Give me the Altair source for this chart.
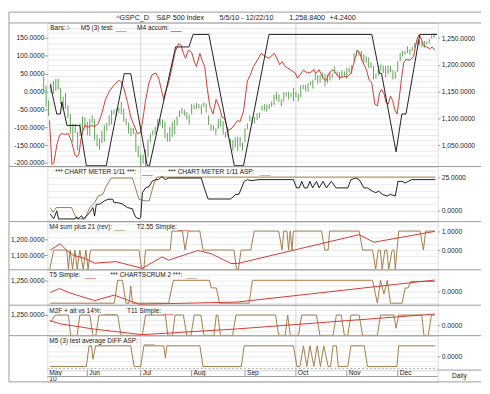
import altair as alt
import pandas as pd

# ---------------- data ----------------
# trading-day index: 0 = 5/5/10 ... 161 = 12/22/10
month_idx = [1.5, 18, 40, 61, 83, 104, 125, 146]
month_lbl = ["May", "Jun", "Jul", "Aug", "Sep", "Oct", "Nov", "Dec"]
quarter_idx = [40, 104]

bar_lo = (
    [1150, 1122, 1105, 1148, 1146, 1152, 1154, 1127, 1116, 1118, 1101, 1071, 1056, 1073, 1041, 1067, 1070, 1081]
    + [1069, 1068, 1091, 1060, 1048, 1042, 1054, 1057, 1077, 1087, 1089, 1108, 1104, 1110, 1108, 1094, 1088, 1072, 1067, 1071, 1038, 1028]
    + [1011, 1016, 1010, 1028, 1056, 1069, 1071, 1080, 1087, 1082, 1063, 1057, 1057, 1066, 1070, 1087, 1103, 1109, 1105, 1098, 1089]
    + [1108, 1117, 1118, 1119, 1108, 1122, 1111, 1088, 1077, 1078, 1069, 1081, 1085, 1070, 1064, 1066, 1046, 1040, 1046, 1040, 1048, 1040]
    + [1056, 1080, 1095, 1091, 1091, 1097, 1101, 1114, 1115, 1113, 1118, 1122, 1125, 1135, 1131, 1123, 1132, 1141, 1136, 1140, 1132]
    + [1140, 1132, 1140, 1155, 1151, 1150, 1162, 1156, 1172, 1165, 1167, 1174, 1160, 1166, 1171, 1175, 1184, 1180, 1172, 1177, 1180]
    + [1174, 1186, 1183, 1206, 1218, 1217, 1208, 1203, 1204, 1194, 1194, 1173, 1174, 1180, 1190, 1185, 1177, 1183, 1186, 1173, 1174]
    + [1187, 1207, 1216, 1219, 1222, 1219, 1226, 1232, 1238, 1237, 1233, 1232, 1238, 1240, 1249, 1251]
)
bar_hi = (
    [1178, 1162, 1134, 1166, 1170, 1174, 1174, 1157, 1141, 1148, 1125, 1108, 1090, 1090, 1075, 1091, 1104, 1102]
    + [1094, 1099, 1106, 1099, 1070, 1063, 1077, 1088, 1092, 1106, 1116, 1117, 1118, 1120, 1131, 1119, 1100, 1092, 1083, 1082, 1074, 1049]
    + [1033, 1033, 1042, 1061, 1072, 1078, 1085, 1099, 1099, 1098, 1095, 1073, 1084, 1094, 1098, 1104, 1115, 1120, 1117, 1112, 1107]
    + [1127, 1126, 1129, 1127, 1126, 1130, 1128, 1106, 1089, 1087, 1082, 1099, 1100, 1095, 1075, 1082, 1062, 1060, 1065, 1066, 1065, 1055]
    + [1082, 1091, 1106, 1103, 1103, 1110, 1111, 1124, 1127, 1126, 1127, 1132, 1144, 1149, 1145, 1136, 1149, 1149, 1150, 1148, 1157]
    + [1150, 1146, 1162, 1163, 1163, 1166, 1169, 1173, 1184, 1181, 1181, 1186, 1183, 1182, 1187, 1184, 1197, 1188, 1186, 1190, 1188]
    + [1195, 1195, 1199, 1222, 1227, 1226, 1226, 1220, 1216, 1214, 1205, 1198, 1184, 1199, 1201, 1199, 1198, 1199, 1198, 1190, 1188]
    + [1207, 1222, 1226, 1226, 1235, 1229, 1234, 1241, 1247, 1246, 1244, 1245, 1244, 1248, 1255, 1259]
)

# (day index, value) pairs
m5_test = [(2.4, -81), (3.4, -205), (4.2, -200), (5.4, -150), (6.5, -123), (7.5, -118), (8.8, -120), (10.2, -118),
           (11.5, -141), (12.9, -178), (13.8, -183), (14.6, -174), (15.2, -141), (16.0, -114), (17.0, -95), (18.3, -100),
           (19.7, -95), (21.0, -98), (22.4, -91), (23.7, -68), (25.5, -22), (27.1, 1), (29.1, 19), (30.9, 31), (31.9, 28),
           (33.2, 6), (34.6, -31), (35.9, -72), (37.3, -95), (38.6, -118), (40.0, -115), (40.9, -77), (42.0, -26),
           (43.4, 24), (44.7, 47), (46.1, 52), (47.4, 38), (48.5, 6), (49.5, -22), (50.1, -4), (51.5, 24), (52.8, 65),
           (54.2, 111), (55.6, 134), (56.7, 130), (57.6, 107), (58.5, 93), (59.6, 116), (61.0, 110), (62.1, 84),
           (63.0, 70), (64.4, 107), (65.3, 88), (66.4, 70), (67.5, 6), (68.5, -40), (69.8, -63), (71.1, -22),
           (72.5, -45), (73.5, -72), (74.6, -75), (75.9, -109), (77.3, -105), (78.9, -91), (80.0, -81), (81.0, -84),
           (82.4, -55), (84.0, 30), (85.1, 45), (86.5, 70), (88.1, 88), (89.7, 107), (91.5, 98), (92.9, 93), (94.2, 102),
           (95.1, 107), (96.2, 93), (97.3, 75), (98.3, 84), (99.6, 70), (101.6, 62), (103.7, 52), (104.6, 38), (105.7, 47),
           (107.1, 60), (108.7, 52), (110.5, 55), (111.4, 62), (112.2, 50), (113.6, 61), (115.0, 40), (116.3, 30),
           (117.8, 52), (119.3, 61), (120.4, 52), (122.0, 38), (123.7, 42), (125.4, 42), (126.7, 52), (128.1, 84),
           (129.4, 116), (130.4, 107), (131.5, 84), (133.1, 61), (134.2, 33), (135.3, 24), (135.9, -4), (136.6, -36),
           (137.6, -40), (138.5, -4), (139.3, 6), (140.3, -5), (141.2, -31), (142.1, -35), (143.0, -13), (143.9, -25),
           (144.7, -49), (145.7, -63), (146.4, -31), (147.5, 33), (148.4, 79), (149.4, 90), (151.1, 88), (152.5, 98),
           (153.8, 143), (154.8, 159), (155.6, 150), (156.5, 130), (157.9, 125), (159.2, 120), (160.2, 125), (161.3, 116)]
m4_accum = [(2.7, 19), (5.4, -63), (6.9, -63), (7.5, -29), (9.6, -95), (14.9, -95), (17.6, -208), (25.8, -208),
            (33.2, 50), (35.9, 50), (42.7, -208), (43.6, -208), (54.4, 125), (59.9, 125), (61.6, 160), (68.1, 160),
            (78.6, -208), (82.4, -208), (92.9, 160), (135.3, 160), (138.5, 51), (139.3, 51), (145.3, -169),
            (147.7, -63), (149.4, -63), (155.1, 160), (162.3, 160)]

meter = [(2.7, -2.4), (4.1, -6.1), (5.4, 0), (6.1, -6.1), (12.9, -6.1), (13.6, -4.5), (14.2, -6.1), (15.6, -3.7),
         (16.3, -6.1), (17.6, -4), (19.0, -1.2), (20.3, 2.4), (21.0, -4), (21.7, 4.9), (23.1, 4.9), (25.1, 7.4),
         (26.4, 8.6), (28.5, 8.6), (29.0, 6.1), (30.5, 6.1), (32.5, 5), (34.5, 2.4), (36.6, 1.5), (37.3, -2.4),
         (38.0, -4.9), (39.3, -6.1), (40.0, -5), (40.7, 13.5), (42.0, 17.1), (43.4, 18), (44.7, 22), (46.1, 23.3),
         (47.4, 23.3), (48.7, 25.7), (50.2, 23.3), (51.5, 24.5), (65.0, 24.5), (66.4, 16), (67.8, 8.8), (77.1, 8.8),
         (79.3, 12.3), (80.5, 12.3), (82.7, 22), (84.0, 23.3), (85.4, 22.5), (88.8, 23.3), (103.0, 23.3),
         (104.3, 17.1), (105.4, 17.1), (106.4, 22), (107.5, 17.1), (108.7, 17.1), (109.8, 22), (110.9, 17.1),
         (112.5, 22), (113.6, 17.1), (115.2, 22), (116.6, 17.1), (118.6, 22), (120.6, 17.1), (125.4, 17.1),
         (126.7, 23.3), (128.7, 24.5), (130.1, 23.3), (132.1, 17.1), (133.5, 17.1), (135.5, 14.7), (136.9, 13.5),
         (138.2, 14.7), (139.6, 12.3), (141.6, 11), (143.0, 12.3), (145.0, 11), (146.1, 22), (147.7, 22),
         (149.1, 20.8), (150.4, 22), (151.8, 23.3), (161.5, 23.3)]
meter_asp = [(2.7, 2.4), (3.8, -1.2), (5.2, 2.4), (11.5, 2.4), (13.6, -6.1), (17.0, -6.1), (19.0, 2.4), (21.0, 6.1),
             (22.4, 11), (24.4, 12.3), (25.8, 18.4), (27.8, 24.5), (36.6, 24.5), (39.3, 8.6), (42.0, 7.4),
             (43.5, 7.4), (45.4, 20), (46.7, 25.2), (161.5, 25.2)]

sum21 = [(2.5, -1), (4.1, 0), (9.5, 0), (10.2, -1), (10.9, 0), (11.9, -1), (12.9, 0), (13.8, -1), (14.9, 0),
         (16.3, -1), (17.4, 0), (18.3, -1), (19.3, 0), (39.3, 0), (40.4, -1), (41.3, -1), (42.0, 0), (52.2, 0),
         (52.9, 1), (57.2, 1), (58.3, 0), (59.6, 1), (64.4, 1), (65.7, 0), (78.5, 0), (79.5, -1), (80.3, -1),
         (81.4, 0), (85.4, 0), (86.8, 1), (96.9, 1), (98.3, 0), (99.0, 1), (100.3, 1), (101.0, 0), (101.7, 1),
         (102.4, 0), (103.0, 1), (114.6, 1), (115.9, 0), (117.3, 0), (117.9, 1), (130.1, 1), (131.5, 0), (135.6, 0),
         (136.9, -1), (138.0, 0), (138.8, 0), (139.6, -1), (140.7, 0), (141.5, 0), (142.3, -1), (143.7, 0),
         (144.5, 0), (145.0, -1), (146.4, 1), (155.2, 1), (156.6, 0), (157.5, 1), (161.3, 1)]
t255 = [(2.7, 1133), (6.8, 1173), (9.5, 1131), (12.2, 1100), (17.0, 1080), (21.0, 1050), (29.8, 1060),
        (40.6, 1017), (48.8, 1090), (51.5, 1069), (63.7, 1131), (69.1, 1110), (77.2, 1048), (80.0, 1048),
        (130.1, 1231), (136.2, 1183), (161.3, 1252)]

t5 = [(2.7, 1173), (6.5, 1198), (10.2, 1173), (21.0, 1121), (29.1, 1156), (39.3, 1098), (80.0, 1112), (161.3, 1252)]
scrum2 = [(2.7, -1), (29.1, -1), (30.5, 1), (32.5, 1), (33.9, -1), (35.2, -1), (35.9, 0.5), (36.6, -1), (51.5, -1),
          (53.5, 1), (68.4, 1), (69.1, 0.33), (71.2, 0.33), (72.5, -1), (84.7, -1), (86.1, 1), (135.6, 1),
          (137.6, -1), (138.9, 1), (140.3, -0.2), (141.7, 1), (143.0, -1), (147.8, -1), (149.1, 0.33),
          (150.3, 0.33), (151.5, 0.9), (161.3, 0.9)]

m2f = [(2.7, 0.3), (4.8, 1), (10.2, 1), (11.1, -1), (13.8, -1), (14.9, 1), (19.0, 1), (20.3, -1), (21.5, -1),
       (22.8, 1), (30.5, 1), (31.9, -1), (40.7, -1), (42.0, 1), (50.2, 1), (51.2, -1), (53.1, -1), (54.2, 1),
       (57.6, 1), (59.0, -1), (60.7, -1), (62.1, 1), (64.8, 1), (66.1, -1), (70.2, -1), (71.2, 1), (71.8, 1),
       (72.9, -1), (77.9, -1), (79.3, 1), (95.6, 1), (96.9, -1), (99.6, -1), (100.6, 1), (101.7, -1), (105.1, -1),
       (106.4, 1), (112.5, 1), (113.9, -1), (119.3, -1), (120.7, 1), (122.7, 1), (124.0, -1), (125.4, -1),
       (126.7, 1), (130.1, 1), (131.5, -1), (137.6, -1), (138.9, 1), (144.4, 1), (145.3, -0.3), (146.4, 1),
       (155.9, 1), (156.8, -1), (158.6, -1), (159.9, 1), (161.3, 1)]
t11 = [(2.7, 1214), (6.8, 1194), (21.0, 1160), (40.6, 1125), (80.0, 1162), (161.3, 1256)]

diff_asp = [(2.7, -1), (17.6, -1), (18.7, 1), (19.7, 1), (20.3, -0.3), (21.4, 1), (35.9, 1), (37.3, -1),
            (40.0, -1), (41.3, 1), (49.5, 1), (50.2, -0.2), (50.8, 1), (64.4, 1), (65.7, -1), (81.5, -1),
            (82.7, 1), (103.0, 1), (104.4, -1), (105.7, -1), (107.1, 1), (108.5, -1), (109.8, 1), (111.4, -1),
            (112.8, 1), (114.1, -1), (115.5, 1), (117.3, -1), (118.3, -1), (119.3, 1), (120.7, 1), (121.5, -1),
            (125.4, -1), (126.7, 1), (132.2, 1), (133.5, -1), (145.7, -1), (146.4, 1), (161.3, 1)]

title_parts = ["^GSPC_D", "S&P 500 Index", "5/5/10 - 12/22/10", "1,258.8400", "+4.2400"]

# ---------------- style / layout ----------------
FONT = "Liberation Sans"
FRAME = "#9a9a9a"
GRID = "#ebebeb"
QGRID = "#d4d4d4"
RED = "#d33a30"
BLACK = "#1e1e1e"
TAN = "#a47b48"
GREEN = "#5fa356"
TEXT = "#222222"

SERIES = ["m5", "m4", "meter", "asp"]
SERIES_COL = [RED, BLACK, BLACK, TAN]
COLOR = alt.Color("s:N", scale=alt.Scale(domain=SERIES, range=SERIES_COL), legend=None)

W = 397
XDOM = [1.5, 162.5]
H_T, H1, H2, H3, H4, H5, H6, H_AX = 11, 146, 56, 49, 36, 31, 35, 12
LEFT, RIGHT = -39, 441
LEG_Y = 5.5
LEG_FS = 6.6

ONE = pd.DataFrame({"k": [0]})
FMT = "replace(format(datum.value, ',.4f'), '\u2212', '-')"


def hline(x1, x2, y, color=FRAME, dash=None):
    kw = dict(color=color, strokeWidth=1)
    if dash:
        kw["strokeDash"] = dash
    return alt.Chart(ONE).mark_rule(**kw).encode(x=alt.value(x1), x2=alt.value(x2), y=alt.value(y))


def vline(x, y1, y2, color=FRAME):
    return alt.Chart(ONE).mark_rule(color=color, strokeWidth=1).encode(
        x=alt.value(x), y=alt.value(y1), y2=alt.value(y2))


def txt(s, x, y, color=TEXT, size=LEG_FS, align="left"):
    return alt.Chart(pd.DataFrame({"t": [s]})).mark_text(
        align=align, baseline="middle", font=FONT, fontSize=size, color=color
    ).encode(x=alt.value(x), y=alt.value(y), text="t:N")


def legend(items):
    return [txt(s, x, LEG_Y, c) for s, x, c in items]


def xenc():
    return alt.X("i:Q", scale=alt.Scale(domain=XDOM, nice=False, zero=False), axis=None)


def ysc(dom):
    return alt.Scale(domain=dom, nice=False, zero=False)


def yaxis(orient, majors, grid_vals=None):
    left = orient == "left"
    kw = dict(orient=orient, title=None, domain=False, ticks=True,
              tickSize=3 if left else 2, tickColor=FRAME,
              labelPadding=0.5 if left else 1.5, labelFont=FONT, labelFontSize=6.8,
              labelColor=TEXT, labelOverlap=False, labelFlush=False, labelBound=False)
    if grid_vals is None:
        kw.update(values=majors, grid=False, labelExpr=FMT)
    else:
        test = "indexof(" + str(list(majors)) + ", datum.value) >= 0"
        kw.update(values=grid_vals, grid=True, gridColor=GRID, gridWidth=1,
                  labelExpr=test + " ? " + FMT + " : ''",
                  tickOpacity={"condition": {"test": test, "value": 1}, "value": 0})
    return alt.Axis(**kw)


def series_df(pairs):
    rows = []
    for name, pts in pairs:
        for i, v in pts:
            rows.append({"s": name, "i": i, "v": v})
    return pd.DataFrame(rows)


def line(points, dom, color, axis):
    df = pd.DataFrame(points, columns=["i", "v"])
    return alt.Chart(df).mark_line(color=color, strokeWidth=1, clip=True).encode(
        x=xenc(), y=alt.Y("v:Q", scale=ysc(dom), axis=axis))


def qgrid():
    return alt.Chart(pd.DataFrame({"i": quarter_idx})).mark_rule(color=QGRID, strokeWidth=1).encode(x=xenc())


def frame(h):
    return [hline(LEFT, RIGHT, 0), vline(LEFT, 0, h)]


# ---------------- title bar ----------------
title_x = [70, 111, 175, 246, 287]
title = alt.layer(
    hline(LEFT, RIGHT, 0), vline(LEFT, 0, H_T),
    *[txt(s, x, H_T / 2, size=7.3) for s, x in zip(title_parts, title_x)]
).properties(width=W, height=H_T, view=alt.ViewBackground(strokeWidth=0))

# ---------------- panel 1 ----------------
d1L = [-210.2, 192.2]
d1R = [1010.5, 1278.4]
bars_df = pd.DataFrame({"i": list(range(len(bar_lo))), "lo": bar_lo, "hi": bar_hi})
bars = alt.Chart(bars_df).mark_rule(color=GREEN, strokeWidth=1).encode(
    x=xenc(),
    y=alt.Y("lo:Q", scale=ysc(d1R),
            axis=yaxis("right", [1050, 1100, 1150, 1200, 1250], list(range(1020, 1280, 10)))),
    y2="hi:Q")
lines1 = alt.Chart(series_df([("m5", m5_test), ("m4", m4_accum)])).mark_line(strokeWidth=1, clip=True).encode(
    x=xenc(),
    y=alt.Y("v:Q", scale=ysc(d1L), axis=yaxis("left", [-200, -150, -100, -50, 0, 50, 100, 150])),
    color=COLOR, detail="s:N")
p1 = alt.layer(
    qgrid(), bars, lines1, *frame(H1),
    *legend([("Bars:", 3, TEXT), ("I-", 20, GREEN), ("M5 (3) test:", 34, TEXT), ("___", 69.5, RED),
             ("M4 accum:", 91.3, TEXT), ("___", 125.5, BLACK)])
).resolve_scale(y="independent").properties(width=W, height=H1)

# ---------------- panel 2 ----------------
d2 = [-8.1, 33.1]
lines2 = alt.Chart(series_df([("asp", meter_asp), ("meter", meter)])).mark_line(strokeWidth=1, clip=True).encode(
    x=xenc(),
    y=alt.Y("v:Q", scale=ysc(d2), axis=yaxis("right", [0, 25], [0, 5, 10, 15, 20, 25, 30])),
    color=COLOR, detail="s:N")
p2 = alt.layer(
    qgrid(), lines2, *frame(H2),
    *legend([("*** CHART METER 1/11 ***:", 8, TEXT), ("___", 96, "#555555"),
             ("*** CHART METER 1/11 ASP:", 123, TEXT), ("___", 216, TAN)])
).properties(width=W, height=H2)

# ---------------- panel 3 ----------------
d3L = [1008, 1314]
d3R = [-1.04, 1.50]
p3 = alt.layer(
    qgrid(),
    line(sum21, d3R, TAN, yaxis("right", [0, 1], [-1, -0.667, -0.333, 0, 0.333, 0.667, 1, 1.333])),
    line(t255, d3L, RED, yaxis("left", [1100, 1200])),
    *frame(H3),
    *legend([("M4 sum plus 21 (rev):", 2, TEXT), ("___", 68, TAN), ("T2.55 Simple:", 91, TEXT), ("___", 133, RED)])
).resolve_scale(y="independent").properties(width=W, height=H3)

# ---------------- panel 4 ----------------
d4L = [1092, 1317]
d4R = [-1.176, 1.918]
p4 = alt.layer(
    qgrid(),
    line(scrum2, d4R, TAN, yaxis("right", [0], [-1, -0.5, 0, 0.5, 1, 1.5])),
    line(t5, d4L, RED, yaxis("left", [1250])),
    *frame(H4),
    *legend([("T5 Simple:", 2, TEXT), ("___", 38, RED), ("*** CHARTSCRUM 2 ***:", 64, TEXT), ("___", 141, TAN)])
).resolve_scale(y="independent").properties(width=W, height=H4)

# ---------------- panel 5 ----------------
d5L = [1118.75, 1312.5]
d5R = [-1.03, 1.97]
p5 = alt.layer(
    qgrid(),
    line(m2f, d5R, TAN, yaxis("right", [0], [-1, -0.5, 0, 0.5, 1, 1.5])),
    line(t11, d5L, RED, yaxis("left", [1250])),
    *frame(H5),
    *legend([("M2F + alt vs 14%:", 2, TEXT), ("___", 59, TAN), ("T11 Simple:", 81, TEXT), ("___", 118, RED)])
).resolve_scale(y="independent").properties(width=W, height=H5)

# ---------------- panel 6 ----------------
d6R = [-1.35, 1.98]
p6 = alt.layer(
    qgrid(),
    line(diff_asp, d6R, TAN, yaxis("right", [0], [-1, -0.5, 0, 0.5, 1, 1.5])),
    hline(0, W, H6 - 1.5, color="#aaaaaa", dash=[2, 2]),
    *frame(H6),
    *legend([("M5 (3) test average DIFF ASP:", 2, TEXT), ("___", 98, TAN)])
).properties(width=W, height=H6)

# ---------------- date axis strip ----------------
months_df = pd.DataFrame({"i": month_idx, "t": month_lbl})
sep = alt.Chart(months_df.iloc[1:]).mark_rule(color=FRAME, strokeWidth=1).encode(
    x=xenc(), y=alt.value(0), y2=alt.value(6.5))
mlab = alt.Chart(months_df).mark_text(align="left", baseline="middle", dx=2, font=FONT,
                                      fontSize=6.8, color=TEXT).encode(
    x=xenc(), y=alt.value(3.3), text="t:N")
year = alt.Chart(pd.DataFrame({"i": [month_idx[0]], "t": ["10"]})).mark_text(
    align="left", baseline="middle", dx=2, font=FONT, fontSize=6.8, color=TEXT).encode(
    x=xenc(), y=alt.value(9.4), text="t:N")
axis_strip = alt.layer(
    sep, mlab, year,
    hline(0, W, 6.5), hline(W, RIGHT, 0), hline(LEFT, RIGHT, H_AX), vline(LEFT, 0, H_AX),
    txt("Daily", W + 22, H_AX / 2 + 0.5, size=6.8, align="center"),
).properties(width=W, height=H_AX)

chart = alt.vconcat(title, p1, p2, p3, p4, p5, p6, axis_strip, spacing=0, bounds="flush").properties(
    padding=0
).configure_view(stroke=FRAME, strokeWidth=1).configure(background="white")

chart.save("out.html", embed_options={"renderer": "svg", "actions": False})
